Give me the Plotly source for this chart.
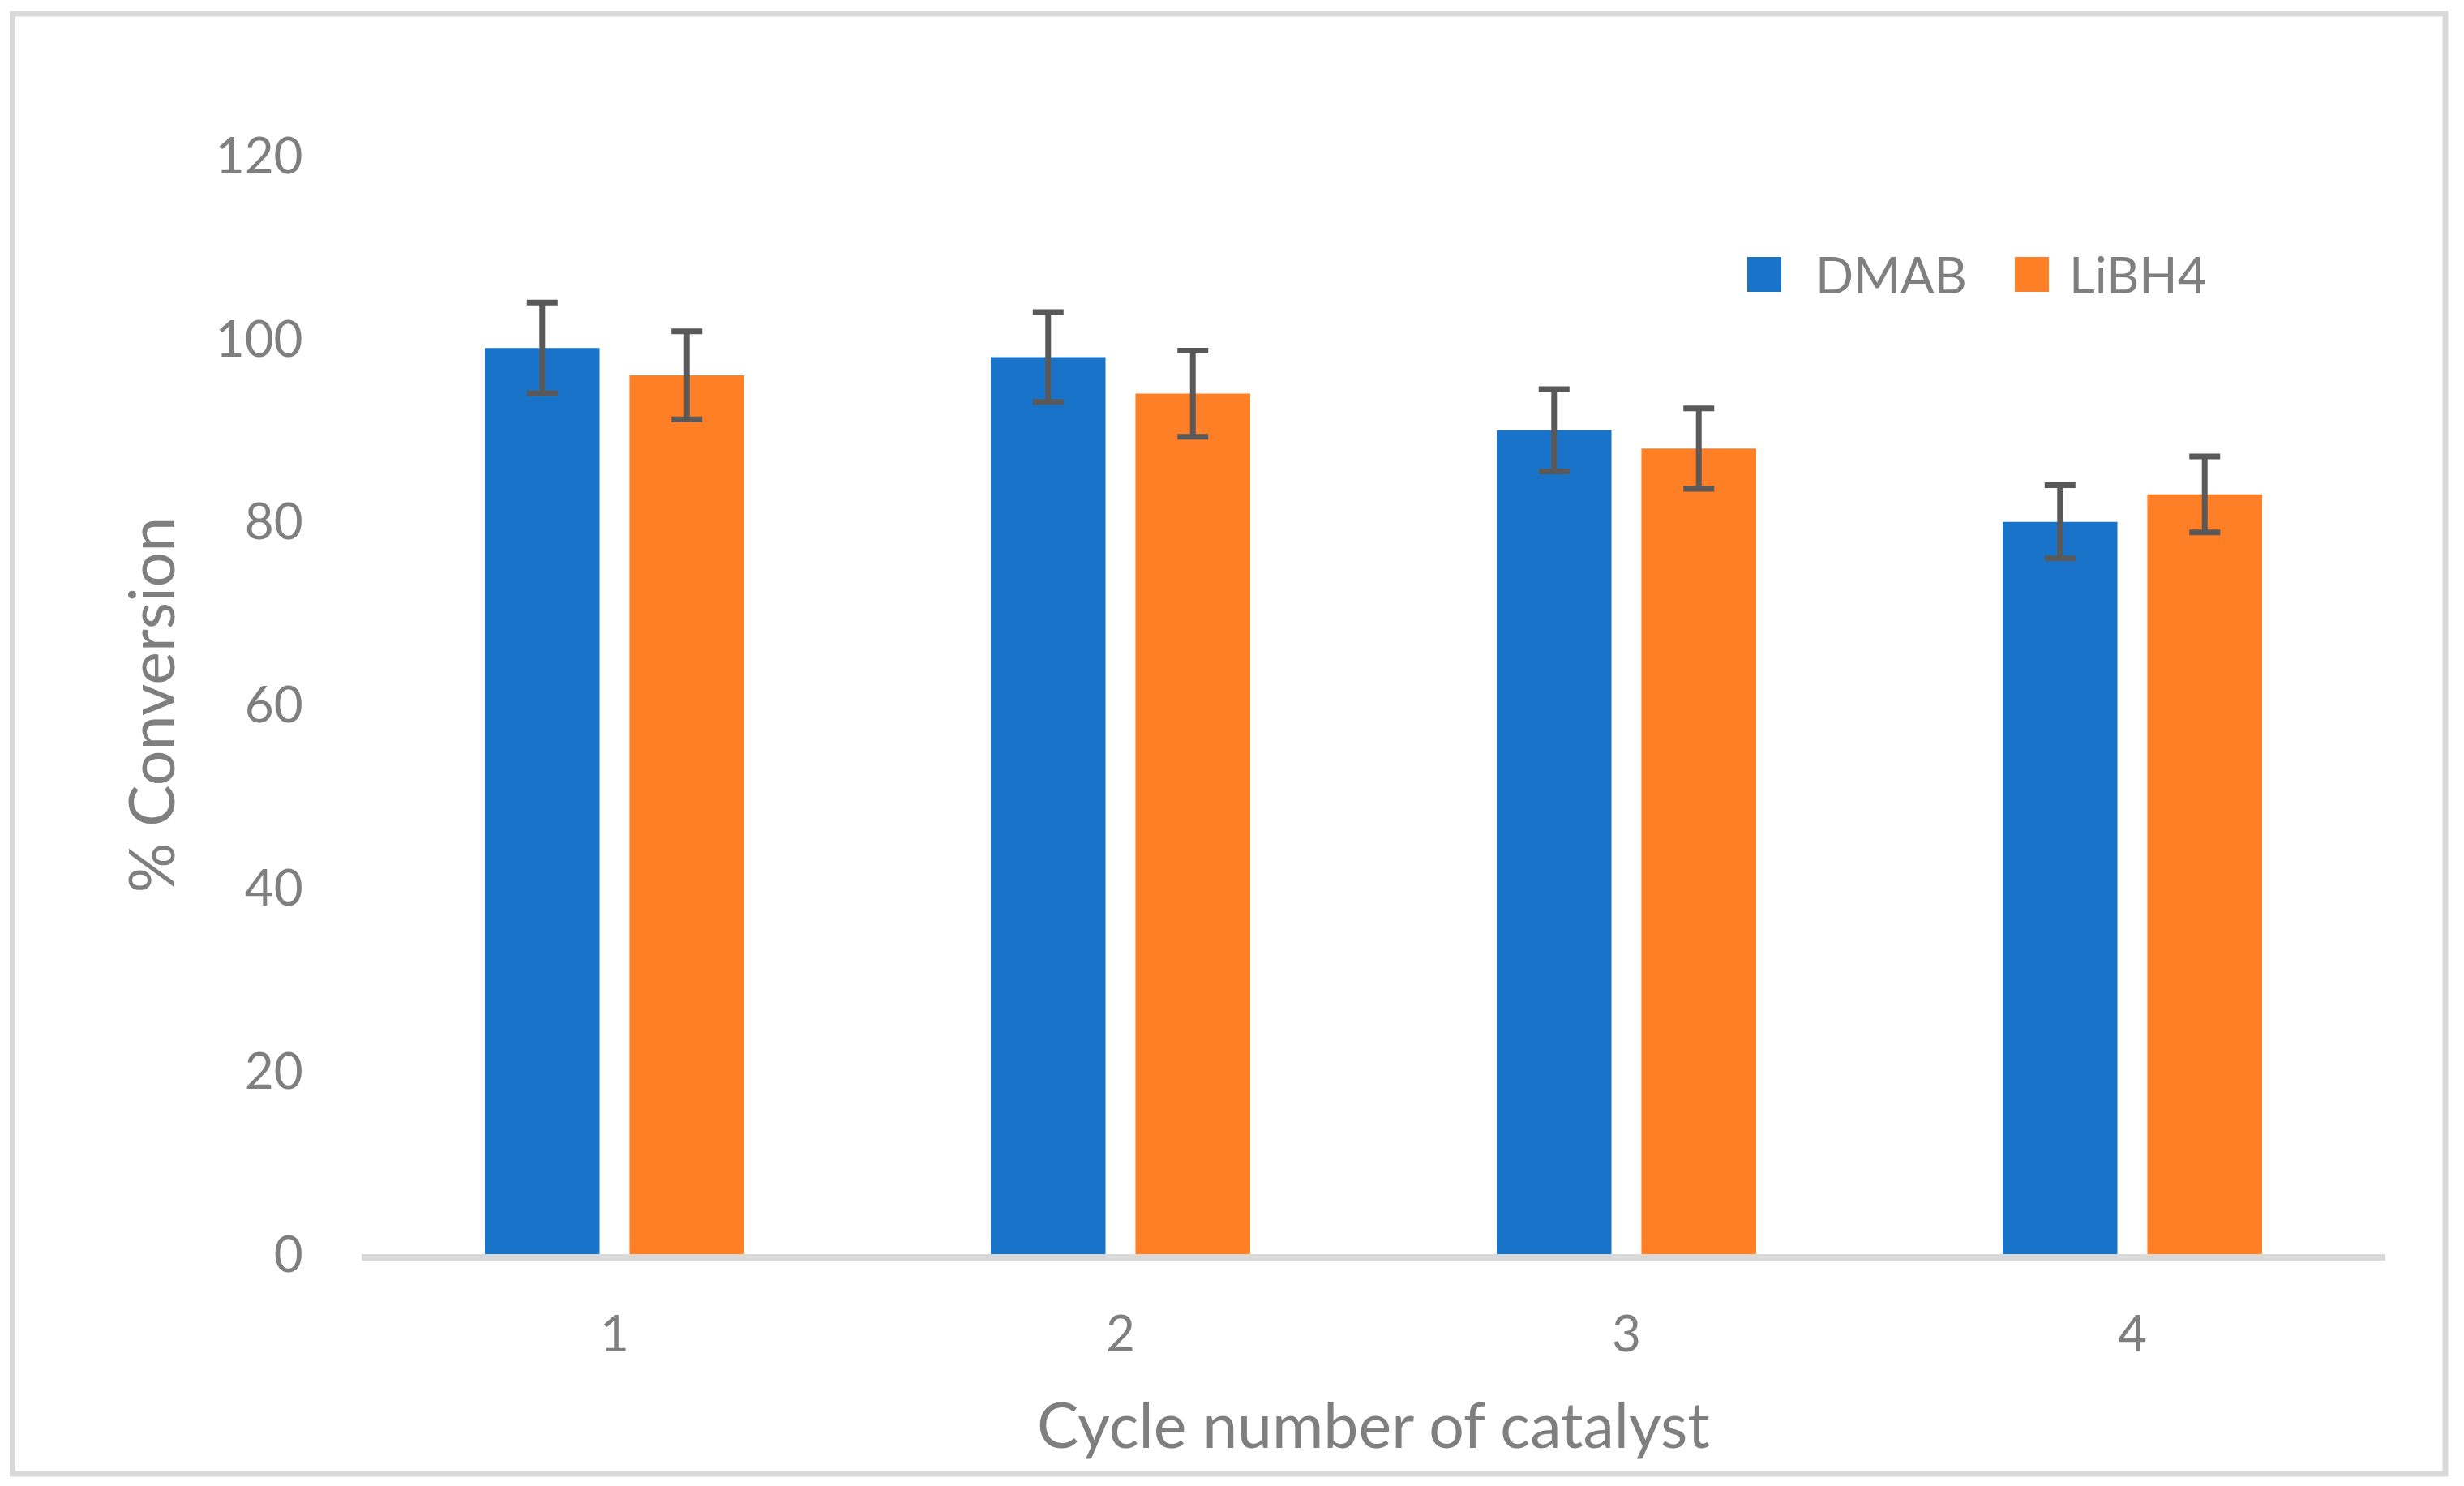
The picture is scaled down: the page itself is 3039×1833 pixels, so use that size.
"""
Catalyst reusability: % conversion per cycle for DMAB and LiBH4 (bar chart with error bars)
"""

import plotly.graph_objects as go

# ── data ────────────────────────────────────────────────────────────
CYCLES = [1, 2, 3, 4]

DMAB_VALUES = [99, 98, 90, 80]
DMAB_ERRORS = [4.95, 4.9, 4.5, 4.0]

LIBH4_VALUES = [96, 94, 88, 83]
LIBH4_ERRORS = [4.8, 4.7, 4.4, 4.15]

Y_TICKS = [0, 20, 40, 60, 80, 100, 120]

# ── style ───────────────────────────────────────────────────────────
# page body has an 8px margin, so the figure is 16px smaller than the window
W, H = 3023, 1817
M_L, M_R, M_T, M_B = 438, 89, 184, 278
PW, PH = W - M_L - M_R, H - M_T - M_B

BLUE   = "#1873C9"
ORANGE = "#FF7F27"
ERR    = "#595959"
TEXT   = "#7F7F7F"
LINE   = "#D9D9D9"
FONT   = "Lato, Open Sans, sans-serif"


def px_x(px):
    return (px - M_L) / PW


def px_y(py):
    return (H - M_B - py) / PH


fig = go.Figure()

series = [
    ("DMAB", DMAB_VALUES, DMAB_ERRORS, BLUE),
    ("LiBH4", LIBH4_VALUES, LIBH4_ERRORS, ORANGE),
]

for name, vals, errs, color in series:
    fig.add_trace(go.Bar(
        x=CYCLES, y=vals, name=name, showlegend=False,
        marker=dict(color=color, line=dict(width=0)),
        error_y=dict(type="data", array=errs, visible=True,
                     color=ERR, thickness=7, width=19),
    ))

# ── 범례 (Excel 스타일 큰 사각형) ─────────────────────────────────────
LEG_Y0, LEG_Y1, LEG_TEXT_Y = 309, 352, 330
for (name, _, _, color), sq_x, txt_x in zip(series, [2147, 2477], [2229, 2542]):
    fig.add_shape(
        type="rect", xref="paper", yref="paper",
        x0=px_x(sq_x), x1=px_x(sq_x + 42), y0=px_y(LEG_Y1), y1=px_y(LEG_Y0),
        fillcolor=color, line=dict(width=0),
    )
    fig.add_annotation(
        text=name, xref="paper", yref="paper",
        x=px_x(txt_x), y=px_y(LEG_TEXT_Y), xanchor="left", yanchor="middle",
        showarrow=False, font=dict(size=62, color=TEXT),
    )

# 외곽 테두리
fig.add_shape(
    type="rect", xref="paper", yref="paper",
    x0=px_x(7.5), x1=px_x(3008), y0=px_y(1810), y1=px_y(9),
    line=dict(color=LINE, width=7), fillcolor="rgba(0,0,0,0)",
)

fig.update_layout(
    width=W, height=H,
    margin=dict(l=M_L, r=M_R, t=M_T, b=M_B),
    paper_bgcolor="white", plot_bgcolor="white",
    font=dict(family=FONT, color=TEXT, size=62),
    barmode="group", bargap=0.428, bargroupgap=0.207,
    showlegend=False,
)

fig.update_xaxes(
    range=[0.5, 4.5], tickvals=CYCLES, ticktext=[str(c) for c in CYCLES],
    showgrid=False, zeroline=False,
    showline=True, linecolor=LINE, linewidth=8,
    ticks="outside", ticklen=38, tickcolor="rgba(0,0,0,0)",
    tickfont=dict(size=62, color=TEXT),
    title=dict(text="Cycle number of catalyst", font=dict(size=77, color=TEXT), standoff=56),
)
fig.update_yaxes(
    range=[0, 120], tickvals=Y_TICKS,
    showgrid=False, zeroline=False, showline=False,
    ticks="outside", ticklen=59, tickcolor="rgba(0,0,0,0)",
    tickfont=dict(size=62, color=TEXT),
    title=dict(text="% Conversion", font=dict(size=77, color=TEXT), standoff=24),
)

fig.write_html("out.html")
